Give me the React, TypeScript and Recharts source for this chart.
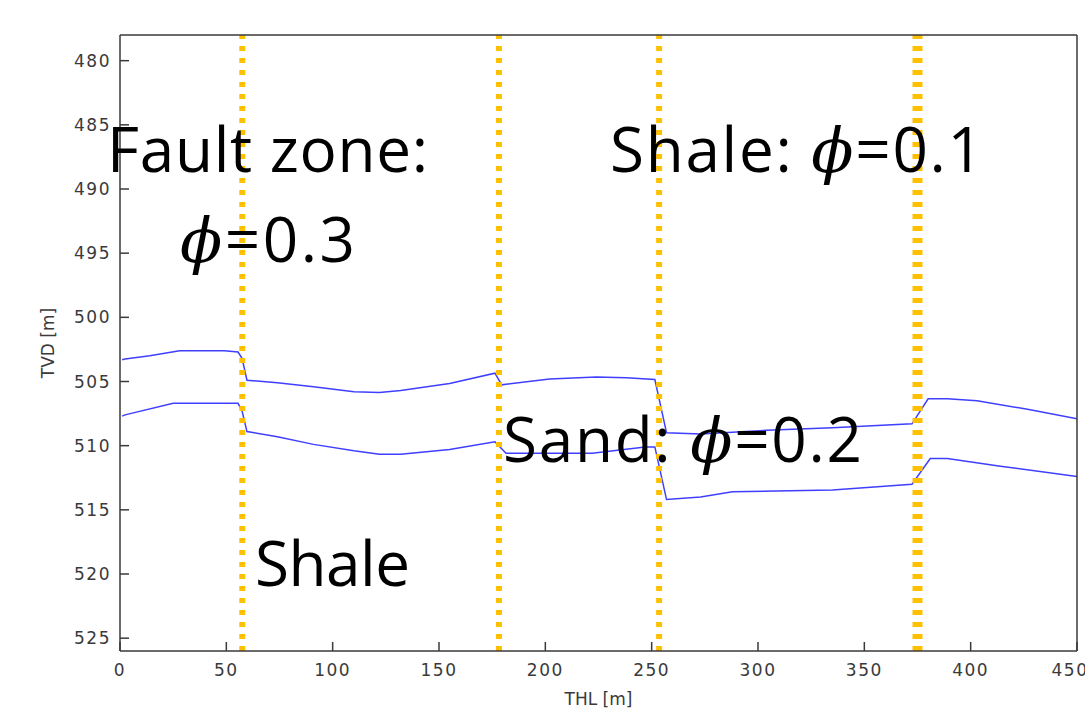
import React from 'react';
import { LineChart, Line, XAxis, YAxis, ReferenceLine, ReferenceDot } from 'recharts';

// THL [m] / TVD [m] of the two horizons
const upperThl = [1, 2.4, 14, 28, 49, 55.5, 57.4, 59.7, 74, 91, 110, 122, 132, 155, 176.3, 179.5, 202, 224, 238, 251.5, 257, 273, 304, 335, 372.4, 380, 389, 403, 428, 450];
const upperTvd = [503.3, 503.25, 503.0, 502.6, 502.6, 502.7, 503.2, 504.9, 505.1, 505.4, 505.8, 505.85, 505.7, 505.15, 504.35, 505.26, 504.8, 504.65, 504.7, 504.85, 509.0, 509.1, 508.8, 508.6, 508.3, 506.35, 506.35, 506.5, 507.2, 507.9];
const lowerThl = [1, 2.4, 25, 55.5, 57.4, 59.7, 74, 91, 110, 122, 132, 155, 176.3, 181.5, 222, 247, 251.5, 257, 273, 288, 335, 372.4, 381, 389, 414, 450];
const lowerTvd = [507.7, 507.6, 506.7, 506.7, 507.3, 508.9, 509.3, 509.9, 510.4, 510.67, 510.67, 510.3, 509.7, 510.6, 510.6, 510.1, 510.1, 514.2, 514.0, 513.6, 513.45, 513.0, 511.0, 511.0, 511.6, 512.4];

// fault positions (THL)
const faultThl = [57.5, 178.2, 253.5, 375];
const faultWidths = [6, 6, 6, 10];

const xTicks = [0, 50, 100, 150, 200, 250, 300, 350, 400, 450];
const yTicks = [480, 485, 490, 495, 500, 505, 510, 515, 520, 525];

// annotations: anchored at (THL, TVD) of their left/baseline
const annotationThl = [-6.1, 28.2, 230.4, 180.1, 63.5];
const annotationTvd = [488.7, 495.7, 488.7, 511.3, 520.9];
const annotationPre = ['Fault zone:', '', 'Shale: ', 'Sand: ', 'Shale'];
const annotationPhi = ['', '0.3', '0.1', '0.2', ''];
const annotationWidth = [321, 175, 373, 359, 155];

const upperData = upperThl.map((x, i) => ({ x, y: upperTvd[i] }));
const lowerData = lowerThl.map((x, i) => ({ x, y: lowerTvd[i] }));

const AXIS = '#3a3a3a';
const tickStyle = { fontSize: 17, fill: '#3a3a3a', fontFamily: 'DejaVu Sans', letterSpacing: 1.5 };

const makeLabel = (i: number) => (props: any) => {
  const vb = props.viewBox || {};
  const x = (vb.x ?? 0) + (vb.width ?? 0) / 2;
  const y = (vb.y ?? 0) + (vb.height ?? 0) / 2;
  return (
    <text
      x={x}
      y={y}
      fontFamily="Open Sans"
      fontSize={62}
      fill="#000"
      textLength={annotationWidth[i]}
      lengthAdjust="spacing"
    >
      {annotationPre[i]}
      {annotationPhi[i] ? (
        <>
          <tspan fontFamily="DejaVu Serif" fontStyle="italic">ϕ</tspan>
          {'=' + annotationPhi[i]}
        </>
      ) : null}
    </text>
  );
};

const Empty = () => <g />;

export default function App() {
  return (
    <div style={{ position: 'absolute', left: 0, top: 0, width: 1085, height: 709, background: '#fff' }}>
      <LineChart width={1085} height={709} margin={{ top: 5, right: 0, bottom: 0, left: 0 }}>
        <XAxis
          dataKey="x"
          type="number"
          domain={[0, 450]}
          ticks={xTicks}
          allowDataOverflow
          height={58}
          tickSize={-9}
          tickMargin={22}
          tick={tickStyle}
          stroke={AXIS}
          axisLine={{ stroke: AXIS, strokeWidth: 1.5 }}
          tickLine={{ stroke: AXIS, strokeWidth: 1.5 }}
          label={{ value: 'THL [m]', position: 'insideBottom', offset: 4, fontSize: 17, fill: '#3a3a3a', fontFamily: 'DejaVu Sans' }}
        />
        <XAxis
          xAxisId="top"
          orientation="top"
          dataKey="x"
          type="number"
          domain={[0, 450]}
          ticks={xTicks}
          height={30}
          tickSize={-9}
          tick={<Empty />}
          axisLine={{ stroke: AXIS, strokeWidth: 1.5 }}
          tickLine={{ stroke: AXIS, strokeWidth: 1.5 }}
        />
        <YAxis
          type="number"
          reversed
          domain={[478, 526]}
          ticks={yTicks}
          allowDataOverflow
          width={120}
          tickSize={-9}
          tickMargin={18}
          tick={tickStyle}
          axisLine={{ stroke: AXIS, strokeWidth: 1.5 }}
          tickLine={{ stroke: AXIS, strokeWidth: 1.5 }}
          label={{ value: 'TVD [m]', angle: -90, position: 'insideLeft', offset: 48, fontSize: 17, fill: '#3a3a3a', fontFamily: 'DejaVu Sans', style: { textAnchor: 'middle' } }}
        />
        <YAxis
          yAxisId="right"
          orientation="right"
          type="number"
          reversed
          domain={[478, 526]}
          ticks={yTicks}
          width={8}
          tickSize={-9}
          tick={<Empty />}
          axisLine={{ stroke: AXIS, strokeWidth: 1.5 }}
          tickLine={{ stroke: AXIS, strokeWidth: 1.5 }}
        />
        {annotationThl.map((x, i) => (
          <ReferenceDot
            key={'a' + i}
            x={x}
            y={annotationTvd[i]}
            r={0}
            fill="none"
            stroke="none"
            ifOverflow="visible"
            label={makeLabel(i)}
          />
        ))}
        <Line data={upperData} dataKey="y" stroke="#3f3fff" strokeWidth={1.5} dot={false} isAnimationActive={false} />
        <Line data={lowerData} dataKey="y" stroke="#3f3fff" strokeWidth={1.5} dot={false} isAnimationActive={false} />
        {faultThl.map((x, i) => (
          <ReferenceLine
            key={'f' + i}
            x={x}
            stroke="#FFC000"
            strokeWidth={faultWidths[i]}
            strokeDasharray="5 7"
          />
        ))}
      </LineChart>
    </div>
  );
}
